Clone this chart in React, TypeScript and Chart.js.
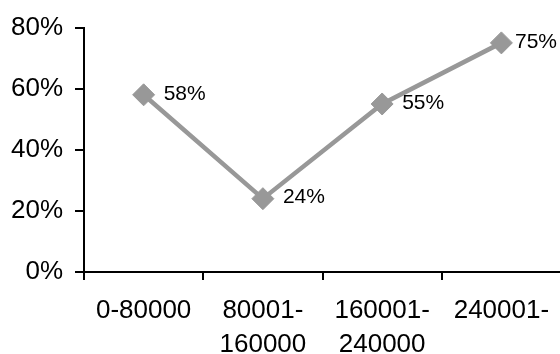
import React, { useEffect, useRef } from "react";
import { Chart, registerables } from "chart.js";

Chart.register(...registerables);

// Income bands and share per band (percent)
const categories: (string | string[])[] = [
  "0-80000",
  ["80001-", "160000"],
  ["160001-", "240000"],
  "240001-",
];
const shares: number[] = [58, 24, 55, 75];
const yTicks: number[] = [0, 20, 40, 60, 80];

const FONT = "'Liberation Sans', Arial, sans-serif";
const LINE_GREY = "#989898";

// Draws "NN%" beside each point, kept inside the canvas on the right
const valueLabels = {
  id: "valueLabels",
  afterDatasetsDraw(chart: any) {
    const { ctx } = chart;
    const meta = chart.getDatasetMeta(0);
    ctx.save();
    ctx.font = `21px ${FONT}`;
    ctx.fillStyle = "#000";
    ctx.textAlign = "left";
    ctx.textBaseline = "middle";
    meta.data.forEach((pt: any, i: number) => {
      const text = `${shares[i]}%`;
      const w = ctx.measureText(text).width;
      let x = pt.x + 20;
      const maxRight = 557;
      if (x + w > maxRight) x = maxRight - w;
      ctx.fillText(text, x, pt.y - 1);
    });
    ctx.restore();
  },
};

export default function App() {
  const ref = useRef<HTMLCanvasElement>(null);

  useEffect(() => {
    if (!ref.current) return;
    const chart = new Chart(ref.current, {
      type: "line",
      data: {
        labels: categories,
        datasets: [
          {
            data: shares,
            borderColor: LINE_GREY,
            backgroundColor: LINE_GREY,
            borderWidth: 4.5,
            pointStyle: "rectRot",
            pointRadius: 11,
            pointBorderWidth: 1,
            pointBackgroundColor: LINE_GREY,
            pointBorderColor: LINE_GREY,
            tension: 0,
          },
        ],
      },
      options: {
        animation: false,
        responsive: false,
        maintainAspectRatio: false,
        layout: {
          autoPadding: false,
          padding: { top: 24, right: 1, left: 0, bottom: 0 },
        },
        plugins: {
          legend: { display: false },
          tooltip: { enabled: false },
        },
        scales: {
          x: {
            type: "category",
            offset: true,
            grid: {
              offset: true,
              drawOnChartArea: false,
              drawTicks: true,
              tickLength: 8,
              color: "#000",
              lineWidth: 2,
            },
            border: { display: true, color: "#000", width: 2 },
            ticks: {
              color: "#000",
              font: { family: FONT, size: 26, lineHeight: 1.31 },
              padding: 14,
              maxRotation: 0,
              autoSkip: false,
            },
            afterFit(scale: any) {
              scale.height = 82;
              scale.paddingLeft = 0;
              scale.paddingRight = 0;
            },
          },
          y: {
            min: 0,
            max: 80,
            afterBuildTicks(scale: any) {
              scale.ticks = yTicks.map((v) => ({ value: v }));
            },
            grid: {
              drawOnChartArea: false,
              drawTicks: true,
              tickLength: 9,
              color: "#000",
              lineWidth: 2,
            },
            border: { display: true, color: "#000", width: 2 },
            ticks: {
              color: "#000",
              font: { family: FONT, size: 26 },
              padding: 12,
              callback: (v: any) => `${v}%`,
            },
            afterFit(scale: any) {
              scale.width = 84;
            },
          },
        },
      },
      plugins: [valueLabels],
    });
    return () => chart.destroy();
  }, []);

  return (
    <div
      style={{
        position: "fixed",
        left: 0,
        top: 0,
        width: 560,
        height: 354,
        overflow: "hidden",
        background: "#fff",
      }}
    >
      <canvas ref={ref} width={562} height={354} />
    </div>
  );
}
